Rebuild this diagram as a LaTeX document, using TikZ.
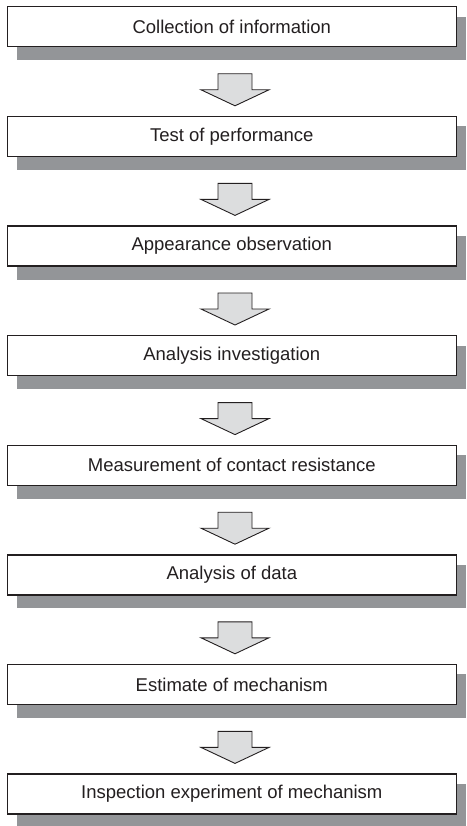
\documentclass[tikz,border=0pt]{standalone}
\usepackage{fontspec}
\setmainfont{Liberation Sans}
\definecolor{shadowgray}{HTML}{939598}
\definecolor{arrowgray}{HTML}{DCDDDE}
\definecolor{ink}{HTML}{231F20}
\begin{document}
\begin{tikzpicture}[x=1pt,y=1pt,
  stepbox/.style={draw=ink, line width=1.4pt, fill=white, minimum width=449pt, minimum height=40pt,
    inner sep=0pt, font=\fontsize{18.5}{20}\selectfont, text=ink},
  downarrow/.style={draw=ink, line width=0.9pt, fill=arrowgray, line join=miter}]
\useasboundingbox (0,0) rectangle (466,-826);
\foreach \i/\t in {1/Collection of information,2/Test of performance,3/Appearance observation,4/Analysis investigation,5/Measurement of contact resistance,6/Analysis of data,7/Estimate of mechanism,8/Inspection experiment of mechanism}{
  \pgfmathsetmacro{\c}{26.8+109.6*(\i-1)}
  \fill[shadowgray] (16.5,-\c+10) rectangle (466,-\c-33.5);
  \node[stepbox] (b\i) at (231.8,-\c) {\t};
}
\foreach \i in {1,...,7}{
  \pgfmathsetmacro{\c}{26.8+109.6*(\i-1)}
  \draw[downarrow] (218,-\c-47) -- (252,-\c-47) -- (252,-\c-63) -- (269,-\c-63) -- (235,-\c-79)
    -- (201,-\c-63) -- (218,-\c-63) -- cycle;
}
\end{tikzpicture}
\end{document}
